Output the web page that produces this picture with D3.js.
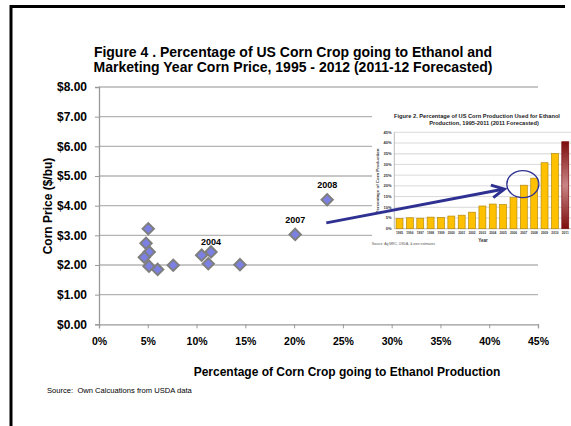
<!DOCTYPE html>
<html>
<head>
<meta charset="utf-8">
<script src="https://cdn.jsdelivr.net/npm/d3@7/dist/d3.min.js"></script>
<style>
  html, body { margin: 0; padding: 0; background: #fff; }
  svg { display: block; font-family: "Liberation Sans", Arial, sans-serif; }
</style>
</head>
<body>
<svg id="chart" width="571" height="426"></svg>
<script>
// ---- Main scatter: ethanol share of corn crop vs. marketing-year price ----
const ethanolShare = [0.0505, 0.0482, 0.0515, 0.0464, 0.0512, 0.0601, 0.0761, 0.1052, 0.1148, 0.1120, 0.1445, 0.2011, 0.2339];
const cornPrice    = [3.22, 2.73, 2.44, 2.26, 1.96, 1.85, 1.99, 2.33, 2.44, 2.04, 2.01, 3.03, 4.20];
const pointLabels  = ["", "", "", "", "", "", "", "", "2004", "", "", "2007", "2008"];
const labelLift    = [0, 0, 0, 0, 0, 0, 0, 0, 7, 0, 0, 11, 12];

const priceTicks = [0, 1, 2, 3, 4, 5, 6, 7, 8];
const shareTicks = [0, 0.05, 0.10, 0.15, 0.20, 0.25, 0.30, 0.35, 0.40, 0.45];

// ---- Inset: share of US corn production used for ethanol by year ----
const insetYears   = ["1995","1996","1997","1998","1999","2000","2001","2002","2003","2004","2005","2006","2007","2008","2009","2010","2011"];
const insetPercent = [4.8, 5.1, 4.9, 5.4, 5.3, 5.9, 6.3, 7.7, 10.6, 11.5, 11.3, 14.5, 20.3, 23.6, 30.8, 35.1, 40.6];
const insetTicks   = [0, 5, 10, 15, 20, 25, 30, 35, 40, 45];

const svg = d3.select("#chart");
const BOLD = "bold";

// Slide frame
svg.append("line").attr("x1", 11).attr("x2", 11).attr("y1", 5).attr("y2", 426)
  .attr("stroke", "#000").attr("stroke-width", 3);
svg.append("line").attr("x1", 10).attr("x2", 565).attr("y1", 6.5).attr("y2", 6.5)
  .attr("stroke", "#000").attr("stroke-width", 3);

// Title
const title = svg.append("text").attr("text-anchor", "middle")
  .attr("font-weight", BOLD).attr("font-size", 14).attr("fill", "#000");
title.append("tspan").attr("x", 293).attr("y", 57).text("Figure 4 . Percentage of US Corn Crop going to Ethanol and");
title.append("tspan").attr("x", 293).attr("y", 71.5).text("Marketing Year Corn Price, 1995 - 2012 (2011-12 Forecasted)");

// Scales
const x = d3.scaleLinear().domain([0, 0.45]).range([99, 538]);
const y = d3.scaleLinear().domain([0, 8]).range([324.3, 87]);

// Gridlines
svg.append("g").selectAll("line").data(priceTicks.filter(d => d > 0)).join("line")
  .attr("x1", x(0)).attr("x2", x(0.45))
  .attr("y1", d => y(d)).attr("y2", d => y(d))
  .attr("stroke", "#b4b4b4").attr("stroke-width", 1.3);

// Y axis
const yAxis = svg.append("g").attr("transform", `translate(${x(0)},0)`)
  .call(d3.axisLeft(y).tickValues(priceTicks).tickFormat(d => "$" + d3.format(".2f")(d)).tickSize(4).tickPadding(8));
yAxis.select(".domain").attr("stroke", "#999").attr("stroke-width", 1.3);
yAxis.selectAll(".tick line").attr("stroke", "#999");
yAxis.selectAll("text").attr("font-size", 12).attr("font-weight", BOLD).attr("fill", "#000")
  .attr("font-family", "Liberation Sans, Arial, sans-serif");

// X axis
const xAxis = svg.append("g").attr("transform", `translate(0,${y(0)})`)
  .call(d3.axisBottom(x).tickValues(shareTicks).tickFormat(d3.format(".0%")).tickSize(4).tickPadding(9));
xAxis.select(".domain").attr("stroke", "#999").attr("stroke-width", 1.3);
xAxis.selectAll(".tick line").attr("stroke", "#999");
xAxis.selectAll("text").attr("font-size", 10.5).attr("font-weight", BOLD).attr("fill", "#000")
  .attr("font-family", "Liberation Sans, Arial, sans-serif");

// Axis titles
svg.append("text").attr("transform", "translate(48,206) rotate(-90)")
  .attr("text-anchor", "middle").attr("dominant-baseline", "central")
  .attr("font-size", 12).attr("font-weight", BOLD).text("Corn Price ($/bu)");
svg.append("text").attr("x", 347).attr("y", 375.5).attr("text-anchor", "middle")
  .attr("font-size", 12).attr("font-weight", BOLD).text("Percentage of Corn Crop going to Ethanol Production");
svg.append("text").attr("x", 47).attr("y", 393).attr("font-size", 7.6).attr("fill", "#000")
  .attr("xml:space", "preserve").text("Source:  Own Calcuations from USDA data");

// ---- Inset chart ----
const inset = svg.append("g");
inset.append("rect").attr("x", 372).attr("y", 110).attr("width", 199).attr("height", 140).attr("fill", "#fff");

const ix = d3.scaleBand().domain(insetYears).range([394.3, 570.5]).paddingInner(0.33).paddingOuter(0.17);
const iy = d3.scaleLinear().domain([0, 45]).range([228.7, 132.3]);

const it = inset.append("text").attr("text-anchor", "middle").attr("font-size", 5.7).attr("font-weight", BOLD).attr("fill", "#222");
it.append("tspan").attr("x", 477).attr("y", 118.3).text("Figure 2.  Percentage of US Corn Production Used for Ethanol");
it.append("tspan").attr("x", 484).attr("y", 124.8).text("Production, 1995-2011 (2011 Forecasted)");

inset.append("g").selectAll("line").data(insetTicks.filter(d => d > 0)).join("line")
  .attr("x1", 394.3).attr("x2", 571)
  .attr("y1", d => iy(d)).attr("y2", d => iy(d))
  .attr("stroke", d => d === 35 ? "#e2e2e2" : "#cfcfcf").attr("stroke-width", d => d === 35 ? 1.4 : 0.8);

inset.append("line").attr("x1", 394.3).attr("x2", 394.3).attr("y1", iy(45)).attr("y2", iy(0))
  .attr("stroke", "#aaa").attr("stroke-width", 0.8);
inset.append("line").attr("x1", 394.3).attr("x2", 571).attr("y1", iy(0)).attr("y2", iy(0))
  .attr("stroke", "#aaa").attr("stroke-width", 0.8);

inset.append("g").selectAll("text").data(insetTicks).join("text")
  .attr("x", 391.5).attr("y", d => iy(d)).attr("dy", "0.35em").attr("text-anchor", "end")
  .attr("font-size", 4).attr("font-weight", BOLD).attr("fill", "#333").text(d => d + "%");

const grad = svg.append("defs").append("linearGradient").attr("id", "lastBar")
  .attr("x1", 0).attr("x2", 0).attr("y1", 0).attr("y2", 1);
grad.append("stop").attr("offset", "0%").attr("stop-color", "#7d0d0d");
grad.append("stop").attr("offset", "50%").attr("stop-color", "#c98585");
grad.append("stop").attr("offset", "100%").attr("stop-color", "#7d0d0d");

inset.append("g").selectAll("rect").data(insetYears).join("rect")
  .attr("x", d => ix(d)).attr("width", ix.bandwidth())
  .attr("y", (d, i) => iy(insetPercent[i])).attr("height", (d, i) => iy(0) - iy(insetPercent[i]))
  .attr("fill", (d, i) => i === insetYears.length - 1 ? "url(#lastBar)" : "#ffc000")
  .attr("stroke", (d, i) => i === insetYears.length - 1 ? "#7d0d0d" : "#b58a10")
  .attr("stroke-width", 0.7);

inset.append("g").selectAll("text").data(insetYears).join("text")
  .attr("x", d => ix(d) + ix.bandwidth() / 2).attr("y", 233.8).attr("text-anchor", "middle")
  .attr("font-size", 3.2).attr("font-weight", BOLD).attr("fill", "#333").text(d => d);

inset.append("text").attr("transform", "translate(377.5,181) rotate(-90)")
  .attr("text-anchor", "middle").attr("dominant-baseline", "central")
  .attr("font-size", 4.4).attr("font-weight", BOLD).attr("fill", "#444").text("Percentage of Corn Production");
inset.append("text").attr("x", 483).attr("y", 242.3).attr("text-anchor", "middle")
  .attr("font-size", 4.6).attr("font-weight", BOLD).attr("fill", "#333").text("Year");
inset.append("text").attr("x", 371.7).attr("y", 244.6)
  .attr("font-size", 3.4).attr("fill", "#555").text("Source: Ag MRC, USDA, & own estimates");

// Circle around the 2007-2008 bars
inset.append("ellipse")
  .attr("cx", ix("2007") + ix.bandwidth() / 2 - 1).attr("cy", iy(20.8))
  .attr("rx", 16).attr("ry", 13.5)
  .attr("fill", "none").attr("stroke", "#2e3192").attr("stroke-width", 1.3);

// ---- Scatter points ----
const diamond = d3.symbol().type(d3.symbolSquare).size(64);
svg.append("g").selectAll("path").data(ethanolShare).join("path")
  .attr("d", diamond)
  .attr("transform", (d, i) => `translate(${x(d)},${y(cornPrice[i])}) rotate(45)`)
  .attr("fill", "#7b80e2").attr("stroke", "#7f7f7f").attr("stroke-width", 2);

svg.append("g").selectAll("text").data(ethanolShare).join("text")
  .filter((d, i) => pointLabels[i] !== "")
  .attr("x", d => x(d))
  .attr("y", (d, i) => y(cornPrice[ethanolShare.indexOf(d)]) - labelLift[ethanolShare.indexOf(d)])
  .attr("text-anchor", "middle").attr("font-size", 9).attr("font-weight", BOLD)
  .text(d => pointLabels[ethanolShare.indexOf(d)]);

// ---- Arrow pointing from the scatter to the inset ----
const arrowFrom = [0.233, 3.42];
const arrowTo   = [0.4155, 4.56];
const ax0 = x(arrowFrom[0]), ay0 = y(arrowFrom[1]);
const ax1 = x(arrowTo[0]),   ay1 = y(arrowTo[1]);
const ang = Math.atan2(ay1 - ay0, ax1 - ax0);
const barb = 14, spread = 27 * Math.PI / 180;
const b1 = [ax1 - barb * Math.cos(ang - spread), ay1 - barb * Math.sin(ang - spread)];
const b2 = [ax1 - barb * Math.cos(ang + spread), ay1 - barb * Math.sin(ang + spread)];
svg.append("line").attr("x1", ax0).attr("y1", ay0).attr("x2", ax1 - 1.5 * Math.cos(ang)).attr("y2", ay1 - 1.5 * Math.sin(ang))
  .attr("stroke", "#2e3192").attr("stroke-width", 3);
svg.append("path").attr("d", d3.line()([b1, [ax1, ay1], b2]))
  .attr("fill", "none").attr("stroke", "#2e3192").attr("stroke-width", 3).attr("stroke-linejoin", "miter");
</script>
</body>
</html>
